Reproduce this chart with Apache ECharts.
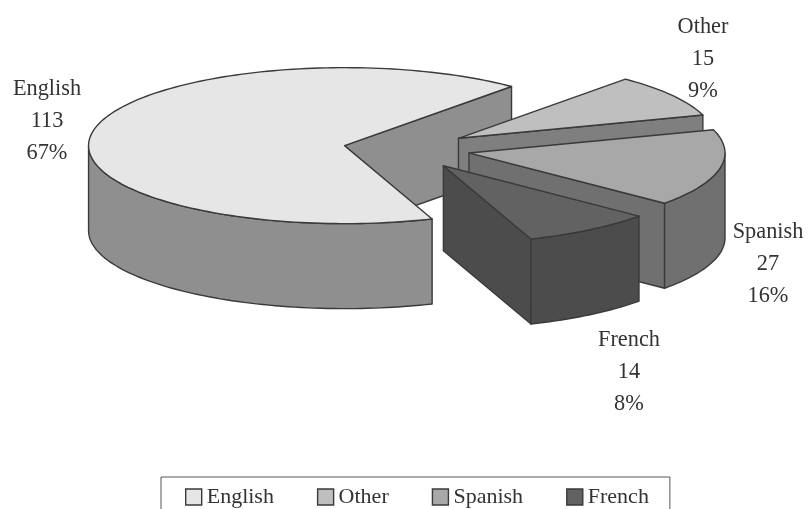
<!DOCTYPE html>
<html>
<head>
<meta charset="utf-8">
<style>html,body{margin:0;padding:0;background:#fff}#c{width:809px;height:509px}</style>
<script src="https://cdn.jsdelivr.net/npm/echarts@6/dist/echarts.min.js"></script>
</head>
<body>
<div id="c"></div>
<script>
const categories = ['English', 'Other', 'Spanish', 'French'];
const values = [113, 15, 27, 14];

const topColors = ['#e6e6e6', '#bfbfbf', '#a8a8a8', '#626262'];
const sideColors = ['#8f8f8f', '#7f7f7f', '#707070', '#4c4c4c'];
const explode = [0.24, 0.25, 0.255, 0.262];
const labelCenters = [[47, 121], [703, 59], [768, 264], [629, 372]];
const pie = { cx: 405, cy: 149, rx: 256, ry: 78, depth: 85, start: -70 };
const lineColor = '#3a3a3a';
const fontFamily = '"Liberation Serif", serif';

const total = values.reduce((a, b) => a + b, 0);
const slices = [];
let cursor = pie.start;
values.forEach((v, i) => {
  const span = v / total * 360;
  const a0 = cursor, a1 = cursor - span, mid = (a0 + a1) / 2;
  const rad = mid * Math.PI / 180;
  slices.push({
    a0, a1,
    x: pie.cx + explode[i] * pie.rx * Math.cos(rad),
    y: pie.cy - explode[i] * pie.ry * Math.sin(rad)
  });
  cursor = a1;
});

function rim(s, deg, down) {
  const r = deg * Math.PI / 180;
  return [s.x + pie.rx * Math.cos(r), s.y - pie.ry * Math.sin(r) + (down ? pie.depth : 0)];
}
function arc(s, from, to, down) {
  const n = Math.max(2, Math.ceil(Math.abs(from - to) / 1.5));
  const pts = [];
  for (let k = 0; k <= n; k++) pts.push(rim(s, from + (to - from) * k / n, down));
  return pts;
}
function poly(points, fill) {
  return { type: 'polygon', shape: { points }, style: { fill, stroke: lineColor, lineWidth: 1.4, lineJoin: 'round' } };
}
function face(s, deg, fill) {
  const apex = [s.x, s.y], apexDown = [s.x, s.y + pie.depth];
  return poly([apex, rim(s, deg, false), rim(s, deg, true), apexDown], fill);
}

function renderSlice(i) {
  return function () {
    const s = slices[i], children = [];
    if (Math.cos(s.a1 * Math.PI / 180) > 0) children.push(face(s, s.a1, sideColors[i]));
    if (Math.cos(s.a0 * Math.PI / 180) < 0) children.push(face(s, s.a0, sideColors[i]));
    [-540, -180].forEach(lo => {
      const from = Math.max(lo, s.a1), to = Math.min(lo + 180, s.a0);
      if (to > from) {
        children.push(poly(arc(s, from, to, false).concat(arc(s, to, from, true)), sideColors[i]));
      }
    });
    children.push(poly([[s.x, s.y]].concat(arc(s, s.a1, s.a0, false)), topColors[i]));
    const pct = Math.round(values[i] / total * 100) + '%';
    children.push({
      type: 'text', z2: 10,
      x: labelCenters[i][0], y: labelCenters[i][1],
      scaleX: 0.93,
      style: {
        text: categories[i] + '\n' + values[i] + '\n' + pct,
        fill: '#333', font: '24px ' + fontFamily, lineHeight: 32,
        align: 'center', verticalAlign: 'middle'
      }
    });
    return { type: 'group', children };
  };
}

const chart = echarts.init(document.getElementById('c'), null, { renderer: 'canvas' });
chart.setOption({
  animation: false,
  backgroundColor: '#fff',
  legend: {
    left: 161, top: 477,
    padding: [9, 21, 40, 24],
    itemGap: 43, itemWidth: 16, itemHeight: 16,
    borderColor: '#555', borderWidth: 1,
    selectedMode: false,
    textStyle: { fontFamily: 'Liberation Serif', fontSize: 22, color: '#333' },
    data: categories.map((name, i) => ({
      name, icon: 'rect',
      itemStyle: { color: topColors[i], borderColor: lineColor, borderWidth: 1.4 }
    }))
  },
  series: categories.map((name, i) => ({
    type: 'custom', name, coordinateSystem: 'none', silent: true, z: 2 + i,
    itemStyle: { color: topColors[i] },
    renderItem: renderSlice(i),
    data: [values[i]]
  }))
});
</script>
</body>
</html>
